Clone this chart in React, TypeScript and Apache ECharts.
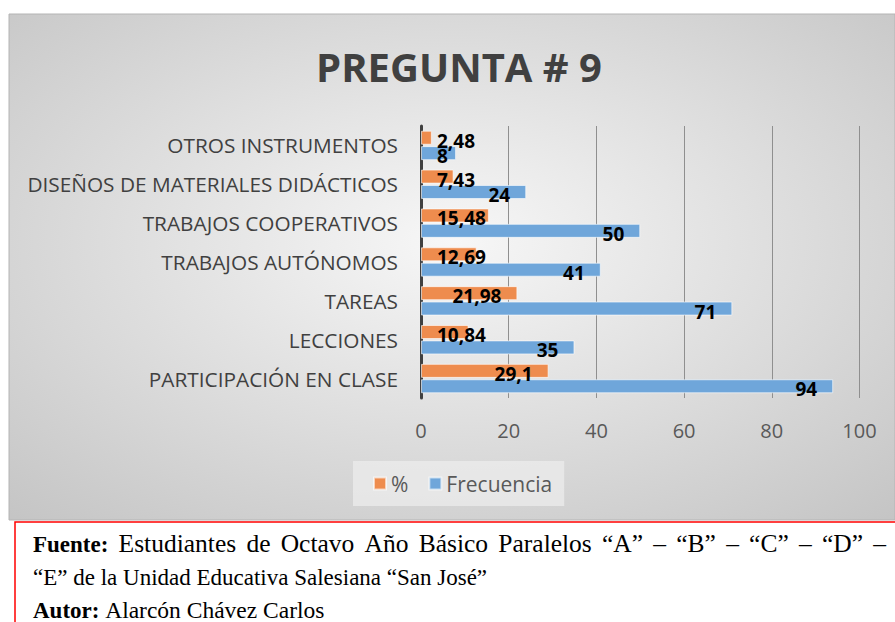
import React, { useEffect, useRef } from "react";
import * as echarts from "echarts";

const categories = [
  "PARTICIPACIÓN EN CLASE",
  "LECCIONES",
  "TAREAS",
  "TRABAJOS AUTÓNOMOS",
  "TRABAJOS COOPERATIVOS",
  "DISEÑOS DE MATERIALES DIDÁCTICOS",
  "OTROS INSTRUMENTOS",
];
const percentValues = [29.1, 10.84, 21.98, 12.69, 15.48, 7.43, 2.48];
const frequencyValues = [94, 35, 71, 41, 50, 24, 8];
const xTicks = { min: 0, max: 100, interval: 20 };
const titleText = "PREGUNTA # 9";
const seriesNames = ["%", "Frecuencia"];
const footerLine1Bold = "Fuente:";
const footerLine1 = "Estudiantes de Octavo Año Básico Paralelos “A” – “B” – “C” – “D” –";
const footerLine2 = "“E” de la Unidad Educativa Salesiana “San José”";
const footerLine3Bold = "Autor:";
const footerLine3 = "Alarcón Chávez Carlos";

const fmt = (v: number) => String(v).replace(".", ",");

const FOOT_FONT_B = "bold 23px 'Liberation Serif'";
const FOOT_FONT_L1 = "25.5px 'Liberation Serif'";
const FOOT_FONT_L2 = "23px 'Liberation Serif'";

function measure(text: string, font: string) {
  const c = document.createElement("canvas");
  const ctx = c.getContext("2d")!;
  ctx.font = font;
  return ctx.measureText(text).width;
}

function justifiedLine(x0: number, x1: number, y: number) {
  const words = [
    { t: footerLine1Bold, f: FOOT_FONT_B },
    ...footerLine1.split(" ").map((t) => ({ t, f: FOOT_FONT_L1 })),
  ];
  const widths = words.map((w) => measure(w.t, w.f));
  const total = widths.reduce((a, b) => a + b, 0);
  const gap = (x1 - x0 - total) / (words.length - 1);
  let x = x0;
  return words.map((w, i) => {
    const el = {
      type: "text",
      x,
      y,
      style: { text: w.t, fill: "#000", font: w.f, textVerticalAlign: "bottom" },
    };
    x += widths[i] + gap;
    return el;
  });
}

export default function App() {
  const ref = useRef<HTMLDivElement>(null);
  useEffect(() => {
    document.body.style.margin = "0";
    const chart = echarts.init(ref.current!, null, { renderer: "svg" });
    const labelFor = (v: number, threshold: number) =>
      v >= threshold
        ? { position: "insideRight", distance: 16 }
        : { position: "insideLeft", distance: 16 };
    const baseLabel = {
      show: true,
      color: "#000",
      fontWeight: "bold",
      fontSize: 19,
      fontFamily: "Open Sans",
      offset: [0, 3],
      formatter: (p: any) => fmt(p.value),
    };
    chart.setOption({
      animation: false,
      graphic: [
        {
          type: "rect",
          z: -10,
          silent: true,
          shape: { x: 9, y: 14, width: 886, height: 506 },
          style: {
            fill: {
              type: "radial",
              x: 0.5,
              y: 0.45,
              r: 0.75,
              colorStops: [
                { offset: 0, color: "#f7f7f7" },
                { offset: 1, color: "#c4c4c4" },
              ],
            },
            stroke: "#b4b4b4",
            lineWidth: 1,
          },
        },
        {
          type: "text",
          x: 459,
          y: 66,
          style: {
            text: titleText,
            fill: "#404040",
            font: "bold 40px 'Open Sans'",
            textAlign: "center",
            textVerticalAlign: "middle",
          },
        },
        {
          type: "rect",
          shape: { x: 15, y: 522, width: 890, height: 110 },
          style: { fill: "#fff", stroke: "#ff0000", lineWidth: 1.5 },
        },
        ...justifiedLine(33, 886, 556),
        {
          type: "text",
          x: 33,
          y: 577,
          style: {
            text: footerLine2,
            fill: "#000",
            font: FOOT_FONT_L2,
            textVerticalAlign: "middle",
          },
        },
        {
          type: "text",
          x: 33,
          y: 610,
          style: {
            text: "{b|" + footerLine3Bold + "} {r|" + footerLine3 + "}",
            fill: "#000",
            font: FOOT_FONT_L2,
            textVerticalAlign: "middle",
            rich: {
              b: { fontWeight: "bold", fontSize: 23, fontFamily: "Liberation Serif" },
              r: { fontSize: 23.5, fontFamily: "Liberation Serif" },
            },
          },
        },
      ],
      legend: {
        data: seriesNames,
        top: 461,
        left: 353,
        itemWidth: 12,
        itemHeight: 12,
        itemGap: 20,
        icon: "rect",
        padding: [12, 12, 12, 20],
        backgroundColor: "rgba(236,236,236,0.75)",
        textStyle: { color: "#595959", fontSize: 21, fontFamily: "Open Sans" },
      },
      grid: { left: 421, right: 35.5, top: 126, bottom: 224, containLabel: false },
      xAxis: {
        type: "value",
        min: xTicks.min,
        max: xTicks.max,
        interval: xTicks.interval,
        axisLine: { show: false },
        axisTick: { show: false },
        splitLine: { lineStyle: { color: "#8f8f8f", width: 1 } },
        axisLabel: { color: "#595959", fontSize: 20, fontFamily: "Open Sans", margin: 22 },
      },
      yAxis: {
        type: "category",
        data: categories,
        axisLine: { show: true, lineStyle: { color: "#404040", width: 3 } },
        axisTick: { show: false },
        axisLabel: { color: "#404040", fontSize: 20.8, fontFamily: "Open Sans", margin: 23 },
      },
      series: [
        {
          name: seriesNames[0],
          type: "bar",
          barWidth: 14,
          barGap: "10%",
          itemStyle: { color: "#EE8C4E", borderColor: "rgba(255,255,255,0.6)", borderWidth: 1 },
          label: baseLabel,
          data: percentValues.map((v) => ({ value: v, label: labelFor(v, 18) })),
        },
        {
          name: seriesNames[1],
          type: "bar",
          barWidth: 14,
          barGap: "10%",
          itemStyle: { color: "#6FA6DA", borderColor: "rgba(255,255,255,0.6)", borderWidth: 1 },
          label: baseLabel,
          data: frequencyValues.map((v) => ({ value: v, label: labelFor(v, 18) })),
        },
      ],
    });
    return () => chart.dispose();
  }, []);
  return <div ref={ref} style={{ width: 895, height: 622 }} />;
}
